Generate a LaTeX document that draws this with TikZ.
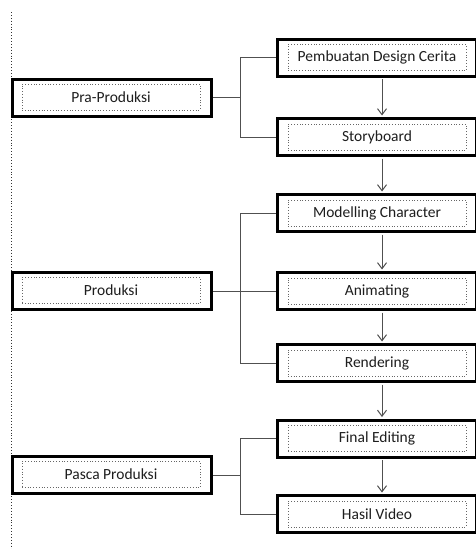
\documentclass[tikz,border=0pt]{standalone}
\usepackage{fontspec}
\setmainfont{Carlito}
\usetikzlibrary{arrows.meta}
\definecolor{txt}{HTML}{1E1E1E}
\definecolor{conn}{HTML}{505050}
\tikzset{
  outerbox/.style={draw=black, line width=3pt, minimum width=199pt, minimum height=37pt, inner sep=0pt, fill=white},
  innerbox/.style={draw=gray!80!black, dotted, line width=0.8pt, minimum width=178pt, minimum height=26pt, inner sep=0pt, font=\fontsize{15.5}{17}\selectfont, text=txt},
  conn/.style={draw=conn, line width=1pt},
  flow/.style={conn, -{Straight Barb[length=6pt,width=9pt,line width=1pt]}}
}
\begin{document}
\begin{tikzpicture}[x=1pt,y=-1pt]
\useasboundingbox (0,0) rectangle (475,549);
% page margin line
\coordinate (mtop) at (11,12);
\coordinate (mbot) at (11,549);
\draw[black!80, dotted, line width=0.9pt] (mtop) -- (mbot);

% left phase boxes
\node[outerbox] (pra) at (112,97.5) {};
\node[innerbox] (prat) at (111,97) {Pra-Produksi};
\node[outerbox] (prod) at (112,291) {};
\node[innerbox] (prodt) at (111,290.5) {Produksi};
\node[outerbox] (pasca) at (112,475) {};
\node[innerbox] (pascat) at (111,474.5) {Pasca Produksi};

% right step boxes
\node[outerbox] (s1) at (377,57.5) {};
\node[innerbox] (s1t) at (377,57.5) {Pembuatan Design Cerita};
\node[outerbox] (s2) at (377,137) {};
\node[innerbox] (s2t) at (377,137) {Storyboard};
\node[outerbox] (s3) at (377,213) {};
\node[innerbox] (s3t) at (377,213) {Modelling Character};
\node[outerbox] (s4) at (377,291) {};
\node[innerbox] (s4t) at (377,291) {Animating};
\node[outerbox] (s5) at (377,363) {};
\node[innerbox] (s5t) at (377,363) {Rendering};
\node[outerbox] (s6) at (377,438.5) {};
\node[innerbox] (s6t) at (377,438.5) {Final Editing};
\node[outerbox] (s7) at (377,514) {};
\node[innerbox] (s7t) at (377,514) {Hasil Video};

% bracket junction coordinates
\coordinate (j1) at (240,97.5);
\coordinate (j2) at (240,291);
\coordinate (j3) at (240,475);

% brackets
\draw[conn] (pra.east) -- (j1);
\draw[conn] (s1.west) -- (j1 |- s1.west) -- (j1 |- s2.west) -- (s2.west);

\draw[conn] (prod.east) -- (s4.west);
\draw[conn] (s3.west) -- (j2 |- s3.west) -- (j2 |- s5.west) -- (s5.west);

\draw[conn] (pasca.east) -- (j3);
\draw[conn] (s6.west) -- (j3 |- s6.west) -- (j3 |- s7.west) -- (s7.west);

% flow arrows
\foreach \a/\b in {s1/s2,s2/s3,s3/s4,s4/s5,s5/s6,s6/s7}
  \draw[flow] ([xshift=5pt,yshift=-1.5pt]\a.south) -- ([xshift=5pt,yshift=1.5pt]\b.north);
\end{tikzpicture}
\end{document}
